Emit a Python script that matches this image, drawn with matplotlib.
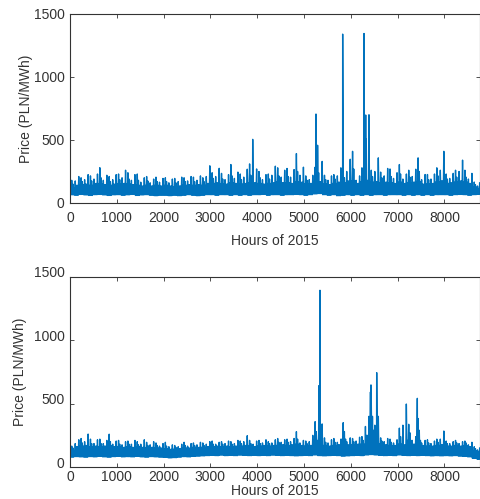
import matplotlib
matplotlib.use("Agg")
import matplotlib.pyplot as plt
import matplotlib.transforms as mtransforms

# ── Data (per 100-hour block) ─────────────────────────────────────────────────
HOURS = 8760
BIN = 100

# top panel: block low, typical top of the band, upper tops, block peak
top_lo = [65, 62, 68, 64, 60, 66, 68, 64, 60, 65,
          66, 62, 65, 68, 60, 64, 66, 62, 58, 62,
          62, 58, 62, 58, 62, 66, 62, 58, 62, 66,
          66, 62, 66, 66, 62, 66, 62, 66, 62, 66,
          66, 68, 62, 66, 66, 62, 66, 66, 68, 66,
          62, 66, 72, 75, 66, 62, 66, 58, 62, 66,
          62, 66, 62, 66, 62, 66, 66, 62, 66, 66,
          66, 62, 66, 62, 66, 62, 66, 62, 66, 66,
          66, 62, 66, 68, 66, 62, 66, 70]
top_core = [120, 140, 145, 150, 140, 155, 150, 145, 140, 150,
            150, 155, 150, 145, 140, 135, 140, 135, 140, 135,
            140, 135, 130, 135, 140, 145, 140, 145, 140, 155,
            155, 160, 150, 150, 160, 155, 150, 155, 160, 160,
            155, 150, 155, 160, 165, 160, 160, 155, 170, 165,
            150, 155, 170, 170, 150, 145, 155, 165, 160, 175,
            175, 155, 170, 180, 165, 170, 160, 165, 160, 155,
            165, 155, 160, 165, 170, 150, 150, 155, 165, 175,
            155, 160, 165, 175, 165, 155, 125, 115]
top_mid = [150, 175, 170, 185, 175, 190, 200, 180, 170, 185,
           185, 200, 190, 180, 180, 165, 175, 160, 170, 165,
           170, 160, 160, 170, 170, 175, 170, 180, 170, 210,
           195, 210, 190, 185, 215, 195, 185, 205, 220, 210,
           200, 185, 190, 220, 215, 205, 210, 205, 250, 220,
           180, 185, 220, 240, 185, 180, 190, 215, 200, 250,
           270, 180, 220, 230, 210, 250, 200, 215, 210, 195,
           230, 190, 205, 210, 250, 185, 185, 190, 215, 260,
           190, 195, 205, 250, 205, 190, 145, 135]
top_peak = [180, 210, 200, 225, 215, 230, 280, 220, 210, 225,
            230, 260, 240, 225, 230, 200, 210, 190, 205, 195,
            200, 190, 195, 205, 200, 210, 205, 215, 200, 295,
            240, 275, 235, 225, 305, 245, 230, 268, 310, 270,
            250, 225, 230, 292, 279, 260, 274, 265, 392, 284,
            215, 220, 284, 330, 220, 215, 225, 279, 250, 347,
            410, 215, 279, 300, 260, 358, 245, 274, 270, 240,
            305, 230, 260, 268, 358, 226, 226, 230, 279, 410,
            230, 235, 260, 340, 260, 235, 166, 160]
top_spike_hours = [3904, 5256, 5290, 5826, 6282, 6318, 6330, 6388]
top_spike_values = [505, 706, 458, 1340, 1345, 698, 510, 700]

# bottom panel
bot_lo = [78, 82, 80, 78, 82, 80, 84, 80, 78, 82,
          84, 80, 82, 80, 84, 80, 78, 82, 80, 78,
          76, 72, 74, 78, 82, 80, 84, 86, 88, 90,
          92, 90, 94, 90, 92, 90, 94, 92, 90, 92,
          90, 92, 90, 94, 92, 90, 92, 90, 88, 90,
          92, 90, 95, 90, 88, 90, 92, 90, 86, 88,
          90, 92, 90, 95, 98, 95, 92, 90, 92, 90,
          95, 92, 90, 92, 90, 92, 90, 88, 90, 88,
          90, 88, 90, 86, 84, 80, 68, 62]
bot_core = [130, 160, 165, 170, 160, 165, 160, 165, 170, 160,
            160, 155, 160, 155, 160, 155, 150, 155, 150, 150,
            145, 140, 140, 145, 150, 150, 155, 155, 155, 160,
            160, 165, 160, 165, 160, 165, 165, 170, 165, 160,
            165, 170, 165, 170, 170, 175, 170, 175, 180, 170,
            165, 170, 210, 190, 170, 165, 170, 175, 220, 175,
            175, 180, 180, 250, 290, 270, 180, 175, 170, 170,
            180, 175, 210, 180, 210, 170, 165, 165, 170, 175,
            165, 165, 170, 165, 170, 160, 130, 120]
bot_mid = [150, 185, 190, 200, 185, 185, 185, 185, 200, 180,
           180, 175, 180, 180, 175, 180, 170, 175, 170, 165,
           165, 160, 155, 160, 170, 165, 170, 175, 170, 180,
           180, 180, 180, 185, 180, 185, 185, 200, 185, 180,
           185, 190, 185, 190, 195, 195, 195, 200, 220, 190,
           185, 200, 280, 260, 195, 190, 195, 195, 280, 200,
           200, 205, 210, 320, 400, 330, 205, 200, 195, 190,
           240, 330, 270, 210, 290, 190, 190, 185, 195, 220,
           185, 185, 190, 185, 190, 175, 145, 135]
bot_peak = [165, 215, 225, 260, 220, 215, 220, 210, 259, 205,
            210, 200, 205, 210, 200, 215, 195, 200, 190, 185,
            195, 175, 170, 180, 195, 185, 190, 195, 190, 200,
            205, 195, 200, 205, 200, 210, 205, 247, 210, 205,
            210, 215, 200, 215, 225, 215, 220, 225, 279, 210,
            205, 250, 358, 340, 230, 215, 225, 220, 350, 230,
            225, 235, 240, 400, 505, 400, 230, 225, 220, 215,
            307, 485, 337, 240, 383, 210, 215, 205, 220, 284,
            205, 200, 210, 200, 205, 195, 160, 150]
bot_spike_hours = [5318, 5341, 6420, 6431, 6553, 7186, 7421]
bot_spike_values = [642, 1395, 592, 648, 745, 497, 542]


def build_series(lo, core, mid, peak, spike_hours, spike_values):
    # each block is drawn as a dense zig-zag between its low and its tops;
    # the order of the tops alternates so the blocks don't look like a fence
    pts = []
    for i in range(len(lo)):
        start = i * BIN
        width = min(BIN, HOURS - start)
        if i % 2 == 0:
            pattern = [lo[i], core[i], lo[i], peak[i], lo[i], mid[i], lo[i], core[i]]
        else:
            pattern = [lo[i], mid[i], lo[i], core[i], lo[i], core[i], lo[i], peak[i]]
        for k, v in enumerate(pattern):
            pts.append((start + k * width / len(pattern), v))
    pts += list(zip(spike_hours, spike_values))
    pts.sort()
    return [p[0] for p in pts], [p[1] for p in pts]


# ── Style ─────────────────────────────────────────────────────────────────────
plt.rcParams["font.family"] = ["Liberation Sans", "DejaVu Sans"]
plt.rcParams["font.size"] = 10
TXT = "#333333"
LINE = "#0072BD"

fig = plt.figure(figsize=(4.81, 4.99), dpi=100)
ax1 = fig.add_axes([0.1455, 0.5932, 0.8524, 0.3788])
ax2 = fig.add_axes([0.1455, 0.0641, 0.8524, 0.3808])

panels = [
    (ax1, build_series(top_lo, top_core, top_mid, top_peak,
                       top_spike_hours, top_spike_values)),
    (ax2, build_series(bot_lo, bot_core, bot_mid, bot_peak,
                       bot_spike_hours, bot_spike_values)),
]

for ax, (xs, ys) in panels:
    ax.plot(xs, ys, color=LINE, linewidth=1.0)
    ax.set_xlim(0, HOURS)
    ax.set_ylim(0, 1500)
    ax.set_xticks(range(0, 9000, 1000))
    ax.set_yticks([0, 500, 1000, 1500])
    ax.tick_params(direction="in", top=True, right=True, length=3,
                   width=0.6, colors="#333333", labelcolor=TXT, labelsize=10)
    for sp in ax.spines.values():
        sp.set_color("#333333")
        sp.set_linewidth(0.8)
    ax.set_xlabel("Hours of 2015", color=TXT)
    ax.set_ylabel("Price (PLN/MWh)", color=TXT)

ax1.tick_params(axis="x", pad=5.5)
ax1.tick_params(axis="y", pad=4)
ax1.xaxis.set_label_coords(0.5, -0.164)
ax1.yaxis.set_label_coords(-0.091, 0.5)

ax2.tick_params(axis="x", pad=2.5)
ax2.tick_params(axis="y", pad=4)
ax2.xaxis.set_label_coords(0.5, -0.089)
ax2.yaxis.set_label_coords(-0.104, 0.5)
# lower panel's y tick labels sit a little above their ticks in the reference
shift = mtransforms.ScaledTranslation(0, 5 / 100, fig.dpi_scale_trans)
for lbl in ax2.get_yticklabels():
    lbl.set_transform(lbl.get_transform() + shift)

fig.savefig("out.png", dpi=100)
